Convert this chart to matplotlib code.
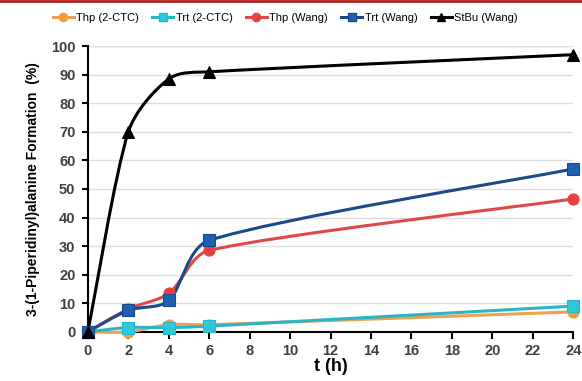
import numpy as np
import matplotlib
matplotlib.use("Agg")
import matplotlib.pyplot as plt
from matplotlib.path import Path
from matplotlib.patches import PathPatch
from matplotlib.lines import Line2D

plt.rcParams["font.family"] = ["Liberation Sans", "DejaVu Sans"]

# data
t = [0, 2, 4, 6, 24]
thp_ctc = [0, 0, 2.5, 2.5, 7]
trt_ctc = [0, 1.5, 1.5, 2, 9]
thp_wang = [0, 8, 13.5, 28.5, 46.5]
trt_wang = [0, 7.5, 11, 32, 57]
stbu_wang = [0, 70, 88.5, 91, 97]

labels = ["Thp (2-CTC)", "Trt (2-CTC)", "Thp (Wang)", "Trt (Wang)", "StBu (Wang)"]
series = [thp_ctc, trt_ctc, thp_wang, trt_wang, stbu_wang]
line_colors = ["#f0a050", "#2ab5c5", "#e04848", "#1a4a8a", "#000000"]
face_colors = ["#f59a3a", "#30c8d8", "#e84040", "#2060b0", "#000000"]
markers = ["o", "s", "o", "s", "^"]


def smooth_path(ax, x, y, k=1 / 6, cap=0.33):
    # Excel-like smoothed line, built in screen space then mapped back to data
    pts = ax.transData.transform(np.column_stack([x, y]).astype(float))
    n = len(pts)
    tang = []
    for i in range(n):
        p0 = pts[max(i - 1, 0)]
        p2 = pts[min(i + 1, n - 1)]
        tang.append((p2 - p0) * k)
    verts = [pts[0]]
    codes = [Path.MOVETO]
    for i in range(n - 1):
        p1, p2 = pts[i], pts[i + 1]
        chord = np.linalg.norm(p2 - p1)
        t1, t2 = tang[i], tang[i + 1]
        l1, l2 = np.linalg.norm(t1), np.linalg.norm(t2)
        if l1 > cap * chord:
            t1 = t1 * cap * chord / l1
        if l2 > cap * chord:
            t2 = t2 * cap * chord / l2
        verts += [p1 + t1, p2 - t2, p2]
        codes += [Path.CURVE4] * 3
    verts = ax.transData.inverted().transform(np.array(verts))
    return Path(verts, codes)


fig = plt.figure(figsize=(5.82, 3.81), dpi=100)
ax = fig.add_axes([0.151, 0.129, 0.834, 0.750])
ax.set_xlim(0, 24)
ax.set_ylim(0, 100)

for ys, lc, fc, m in zip(series, line_colors, face_colors, markers):
    ax.add_patch(PathPatch(smooth_path(ax, t, ys), facecolor="none", edgecolor=lc,
                           lw=2.2, zorder=3, clip_on=False))
    ax.plot(t, ys, linestyle="none", marker=m, ms=8, mfc=fc, mec=lc,
            mew=0.8, zorder=4, clip_on=False)

ax.set_xticks(range(0, 25, 2))
ax.set_yticks(range(0, 101, 10))
ax.grid(axis="y", color="#dddddd", lw=1)
ax.set_axisbelow(True)
for s in ["top", "right"]:
    ax.spines[s].set_visible(False)
ax.spines["left"].set_linewidth(1.5)
ax.spines["bottom"].set_linewidth(1.5)
ax.tick_params(axis="x", direction="out", length=5, width=1.5, colors="black",
               labelcolor="#404040", labelsize=10.5)
ax.tick_params(axis="y", direction="out", length=4, width=1.5, colors="black",
               labelcolor="#404040", labelsize=10.5, pad=5)
for lab in ax.get_xticklabels() + ax.get_yticklabels():
    lab.set_fontweight("bold")

ax.set_xlabel("t (h)", fontsize=13, fontweight="bold", labelpad=0)
ax.set_ylabel("3-(1-Piperidinyl)alanine Formation  (%)", fontsize=10,
              fontweight="bold", labelpad=8)

handles = [Line2D([], [], color=lc, lw=2.2, marker=m, ms=6, mfc=fc, mec=lc)
           for lc, fc, m in zip(line_colors, face_colors, markers)]
fig.legend(handles, labels, loc="center", bbox_to_anchor=(0.49, 0.952), ncol=5,
           frameon=False, fontsize=8, handlelength=1.9, handletextpad=0.2,
           columnspacing=1.2)

# red rule at top edge
fig.add_artist(Line2D([0, 1], [0.997, 0.997], color="#b02020", lw=2,
                      transform=fig.transFigure))

fig.savefig("out.png", dpi=100)
